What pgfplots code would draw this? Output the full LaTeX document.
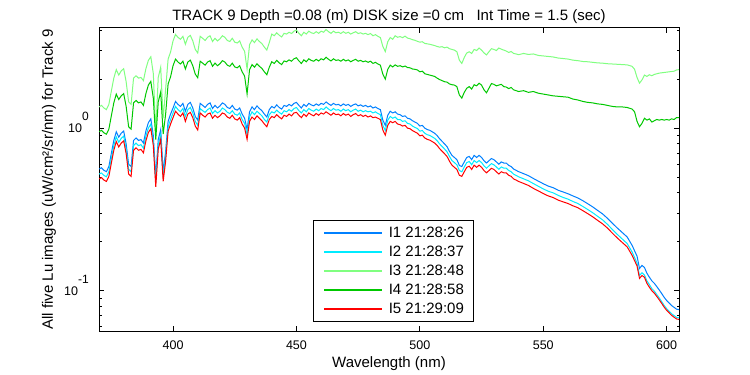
\documentclass[border=0pt]{standalone}
\usepackage{fontspec}
\setmainfont{Liberation Sans}
\usepackage{pgfplots}
\usepackage{pgfplotstable}
\pgfplotsset{compat=1.18}
\definecolor{cI1}{RGB}{0,128,255}
\definecolor{cI2}{RGB}{0,235,255}
\definecolor{cI3}{RGB}{128,255,128}
\definecolor{cI4}{RGB}{0,200,0}
\definecolor{cI5}{RGB}{255,0,0}
\pgfplotstableread{
x B C R G L
370 0.56 0.521 0.487 0.952 1.35
371 0.57 0.530 0.496 0.969 1.38
372 0.55 0.512 0.479 0.935 1.33
373 0.54 0.502 0.470 0.918 1.30
374 0.58 0.539 0.505 0.986 1.40
375 0.70 0.651 0.609 1.19 1.69
376 0.84 0.781 0.731 1.43 2.03
377 0.95 0.884 0.827 1.62 2.29
378 0.88 0.818 0.766 1.50 2.12
379 0.93 0.865 0.809 1.58 2.25
380 0.96 0.893 0.835 1.63 2.32
381 0.80 0.744 0.696 1.36 1.93
382 0.60 0.558 0.522 1.02 1.45
383 0.58 0.539 0.505 0.986 1.40
384 0.84 0.781 0.731 1.43 2.03
385 0.87 0.809 0.757 1.48 2.10
386 0.84 0.781 0.731 1.43 2.03
387 0.85 0.791 0.740 1.45 2.05
388 0.81 0.753 0.705 1.38 1.96
389 0.96 0.893 0.835 1.63 2.32
390 1.08 1.00 0.940 1.84 2.61
391 1.14 1.06 0.992 1.94 2.75
392 0.90 0.837 0.783 1.53 2.17
393 0.50 0.465 0.435 0.850 0.95
394 0.85 0.791 0.740 1.45 2.05
395 0.98 0.911 0.853 1.67 2.37
396 0.54 0.502 0.470 0.918 1.15
397 0.72 0.670 0.626 1.22 1.74
398 1.10 1.02 0.957 1.87 2.66
399 1.22 1.13 1.06 2.07 2.94
400 1.33 1.24 1.16 2.42 3.44
401 1.46 1.36 1.27 2.66 3.77
402 1.40 1.30 1.22 2.55 3.62
403 1.36 1.26 1.18 2.48 3.52
404 1.42 1.32 1.24 2.58 3.67
405 1.27 1.18 1.10 2.31 3.28
406 1.40 1.30 1.22 2.55 3.62
407 1.44 1.34 1.25 2.62 3.72
408 1.33 1.24 1.16 2.42 3.44
409 1.18 1.10 1.03 2.15 3.05
410 1.12 1.04 0.974 2.04 2.90
411 1.42 1.32 1.24 2.58 3.67
412 1.38 1.28 1.20 2.51 3.57
413 1.34 1.25 1.17 2.44 3.46
414 1.40 1.30 1.22 2.55 3.62
415 1.43 1.33 1.24 2.60 3.70
416 1.32 1.23 1.15 2.40 3.41
417 1.38 1.28 1.20 2.51 3.57
418 1.33 1.24 1.16 2.42 3.44
419 1.37 1.27 1.19 2.49 3.54
420 1.43 1.33 1.24 2.60 3.70
421 1.40 1.30 1.22 2.55 3.62
422 1.34 1.25 1.17 2.44 3.46
423 1.32 1.23 1.15 2.40 3.41
424 1.38 1.28 1.20 2.51 3.57
425 1.31 1.22 1.14 2.38 3.38
426 1.29 1.20 1.12 2.35 3.34
427 1.33 1.24 1.16 2.42 3.44
428 1.22 1.13 1.06 2.22 3.15
429 1.15 1.07 1.00 2.09 2.97
430 0.98 0.911 0.853 1.62 2.30
431 1.26 1.17 1.10 2.29 3.26
432 1.35 1.26 1.17 2.46 3.49
433 1.30 1.21 1.13 2.37 3.36
434 1.37 1.27 1.19 2.49 3.54
435 1.32 1.23 1.15 2.40 3.41
436 1.28 1.19 1.11 2.33 3.31
437 1.22 1.13 1.06 2.22 3.15
438 1.17 1.09 1.02 2.13 3.02
439 1.30 1.21 1.13 2.37 3.36
440 1.36 1.26 1.18 2.56 3.79
441 1.33 1.24 1.16 2.50 3.70
442 1.39 1.29 1.21 2.61 3.86
443 1.34 1.25 1.17 2.52 3.73
444 1.31 1.22 1.14 2.46 3.64
445 1.38 1.28 1.20 2.59 3.83
446 1.36 1.26 1.18 2.56 3.79
447 1.40 1.30 1.22 2.63 3.89
448 1.37 1.27 1.19 2.58 3.82
449 1.42 1.32 1.24 2.67 3.95
450 1.44 1.34 1.25 2.71 4.01
451 1.38 1.28 1.20 2.59 3.83
452 1.33 1.24 1.16 2.50 3.70
453 1.40 1.30 1.22 2.63 3.89
454 1.36 1.26 1.18 2.56 3.79
455 1.42 1.32 1.24 2.67 3.95
456 1.39 1.29 1.21 2.61 3.86
457 1.37 1.27 1.19 2.58 3.82
458 1.41 1.31 1.23 2.65 3.92
459 1.38 1.28 1.20 2.59 3.83
460 1.42 1.32 1.24 2.67 3.95
461 1.40 1.30 1.22 2.63 3.89
462 1.45 1.35 1.26 2.73 4.04
463 1.41 1.31 1.23 2.65 3.92
464 1.38 1.28 1.20 2.59 3.83
465 1.42 1.32 1.24 2.67 3.95
466 1.39 1.29 1.21 2.61 3.86
467 1.40 1.30 1.22 2.63 3.89
468 1.37 1.27 1.19 2.58 3.82
469 1.41 1.31 1.23 2.65 3.92
470 1.38 1.28 1.20 2.59 3.83
471 1.40 1.30 1.22 2.63 3.89
472 1.36 1.26 1.18 2.56 3.79
473 1.39 1.29 1.21 2.61 3.86
474 1.41 1.31 1.23 2.65 3.92
475 1.37 1.27 1.19 2.58 3.82
476 1.39 1.29 1.21 2.61 3.86
477 1.36 1.26 1.18 2.56 3.79
478 1.38 1.28 1.20 2.59 3.83
479 1.35 1.26 1.17 2.54 3.76
480 1.37 1.27 1.19 2.58 3.82
481 1.33 1.24 1.16 2.50 3.70
482 1.35 1.26 1.17 2.54 3.76
483 1.32 1.23 1.15 2.48 3.67
484 1.30 1.21 1.13 2.44 3.61
485 1.12 1.04 0.974 2.15 3.18
486 1.04 0.967 0.905 2.00 2.96
487 1.20 1.12 1.04 2.30 3.40
488 1.27 1.18 1.10 2.44 3.61
489 1.24 1.15 1.08 2.38 3.52
490 1.26 1.17 1.10 2.45 3.70
491 1.22 1.13 1.06 2.40 3.62
492 1.21 1.13 1.05 2.42 3.66
493 1.18 1.10 1.03 2.38 3.60
494 1.19 1.11 1.04 2.41 3.68
495 1.15 1.07 1.00 2.36 3.58
496 1.14 1.06 0.992 2.35 3.55
497 1.11 1.03 0.966 2.31 3.50
498 1.09 1.01 0.948 2.30 3.47
499 1.07 0.995 0.931 2.28 3.42
500 1.03 0.958 0.896 2.22 3.38
501 1.04 0.967 0.905 2.24 3.40
502 1.00 0.930 0.870 2.16 3.32
503 0.98 0.911 0.853 2.14 3.30
504 0.97 0.902 0.844 2.12 3.28
505 0.95 0.884 0.827 2.10 3.25
506 0.93 0.865 0.809 2.08 3.22
507 0.90 0.837 0.783 2.03 3.18
508 0.86 0.800 0.748 1.99 3.15
509 0.83 0.772 0.722 1.96 3.17
510 0.80 0.744 0.696 1.93 3.12
511 0.77 0.716 0.670 1.92 3.15
512 0.72 0.670 0.626 1.87 3.08
513 0.68 0.632 0.592 1.85 3.05
514 0.66 0.614 0.574 1.84 3.02
515 0.64 0.595 0.557 1.80 2.95
516 0.59 0.549 0.513 1.60 2.62
517 0.58 0.539 0.505 1.53 2.50
518 0.62 0.577 0.539 1.66 2.72
519 0.66 0.614 0.574 1.76 2.90
520 0.67 0.623 0.583 1.80 2.95
521 0.64 0.595 0.557 1.74 2.88
522 0.68 0.632 0.592 1.85 3.05
523 0.66 0.614 0.574 1.82 3.00
524 0.68 0.632 0.592 1.89 3.11
525 0.66 0.614 0.574 1.84 3.02
526 0.63 0.586 0.548 1.72 2.90
527 0.61 0.567 0.531 1.65 2.82
528 0.63 0.586 0.548 1.76 2.95
529 0.65 0.605 0.566 1.88 3.08
530 0.64 0.595 0.557 1.86 3.05
531 0.62 0.577 0.539 1.82 3.00
532 0.60 0.558 0.522 1.84 3.11
533 0.62 0.577 0.539 1.86 3.06
534 0.61 0.567 0.531 1.80 3.02
535 0.61 0.567 0.531 1.79 2.98
536 0.59 0.549 0.513 1.75 2.92
537 0.58 0.539 0.505 1.78 2.96
538 0.56 0.521 0.487 1.72 2.88
539 0.55 0.512 0.479 1.70 2.86
540 0.54 0.502 0.470 1.68 2.83
542 0.525 0.488 0.457 1.70 2.88
544 0.51 0.474 0.444 1.66 2.84
546 0.49 0.456 0.426 1.68 2.86
548 0.472 0.439 0.411 1.64 2.80
550 0.455 0.423 0.396 1.62 2.78
552 0.44 0.409 0.383 1.60 2.76
554 0.43 0.400 0.374 1.58 2.74
556 0.415 0.386 0.361 1.57 2.70
558 0.405 0.375 0.352 1.56 2.68
560 0.395 0.366 0.344 1.55 2.66
562 0.383 0.354 0.333 1.51 2.62
564 0.372 0.344 0.324 1.49 2.60
566 0.358 0.330 0.311 1.46 2.57
568 0.343 0.316 0.298 1.44 2.56
570 0.328 0.302 0.285 1.43 2.54
572 0.312 0.287 0.271 1.41 2.52
574 0.297 0.273 0.258 1.40 2.51
576 0.279 0.256 0.243 1.38 2.49
578 0.260 0.238 0.226 1.36 2.48
580 0.243 0.222 0.211 1.35 2.47
582 0.228 0.208 0.198 1.35 2.46
584 0.214 0.195 0.186 1.34 2.45
586 0.190 0.173 0.165 1.31 2.40
587 0.176 0.160 0.153 1.26 2.30
588 0.163 0.148 0.142 1.10 2.05
589 0.137 0.124 0.119 1.02 1.89
590 0.143 0.129 0.124 1.07 1.98
591 0.139 0.125 0.121 1.15 2.12
592 0.128 0.115 0.111 1.12 2.08
593 0.121 0.109 0.105 1.14 2.13
594 0.115 0.103 0.100 1.09 2.10
595 0.111 0.0994 0.0966 1.11 2.14
596 0.106 0.0947 0.0922 1.13 2.16
597 0.101 0.0902 0.0879 1.12 2.18
598 0.096 0.0856 0.0835 1.13 2.19
599 0.091 0.0811 0.0792 1.12 2.20
600 0.087 0.0775 0.0757 1.13 2.21
601 0.084 0.0748 0.0731 1.12 2.22
602 0.081 0.0721 0.0705 1.14 2.23
603 0.079 0.0703 0.0687 1.13 2.24
604 0.077 0.0685 0.0670 1.16 2.28
605 0.0765 0.0681 0.0666 1.16 2.29
}\data
\begin{document}
\begin{tikzpicture}
\path[use as bounding box] (0pt,0pt) rectangle (750pt,375pt);
\begin{axis}[
  at={(99pt,44pt)}, anchor=south west,
  scale only axis, width=580pt, height=303pt,
  ymode=log, xmin=370, xmax=605, ymin=0.0565, ymax=4.13,
  xtick={400,450,500,550,600},
  ytick={0.1,1},
  yticklabels={10\raisebox{12pt}{\fontsize{12}{12}\selectfont -1},10\raisebox{12pt}{\fontsize{12}{12}\selectfont 0}},
  minor ytick={0.06,0.07,0.08,0.09,0.2,0.3,0.4,0.5,0.6,0.7,0.8,0.9,2,3,4},
  major tick length=5pt, minor tick length=2.5pt,
  tick style={black, line width=0.9pt},
  axis line style={line width=1pt},
  /pgf/number format/assume math mode=true,
  /pgf/number format/1000 sep={},
  tick label style={font=\fontsize{12.5}{12.5}\selectfont, inner sep=0pt},
  xticklabel style={anchor=north, yshift=-10pt},
  yticklabel style={anchor=base east, xshift=-10pt, yshift=-4.5pt},
  title={TRACK 9 Depth =0.08 (m) DISK size =0 cm\ \ \ Int Time = 1.5 (sec)},
  every axis title/.style={at={(axis description cs:0.5,1.026)}, anchor=base, font=\fontsize{15}{15}\selectfont},
  xlabel={Wavelength (nm)},
  every axis x label/.style={at={(axis description cs:0.5,-0.122)}, anchor=base, font=\fontsize{15}{15}\selectfont},
  ylabel={All five Lu images (uW/cm²/sr/nm) for Track 9},
  every axis y label/.style={at={(axis description cs:-0.0862,0.5)}, rotate=90, anchor=center, font=\fontsize{15}{15}\selectfont},
  legend cell align=left,
  legend style={at={(axis description cs:0.369,0.366)}, anchor=north west, draw=black, line width=1pt, fill=white,
    font=\fontsize{15}{15}\selectfont, inner xsep=10pt, inner ysep=5.5pt, row sep=5pt, column sep=6pt,
    nodes={inner sep=0pt, text height=11pt, text depth=3pt}},
  legend image code/.code={\draw[#1, line width=1.3pt] (0pt,0pt) -- (58pt,0pt);},
]
\addplot[color=cI1, line width=1pt, mark=none] table[x=x,y=B] {\data};
\addlegendentry{I1 21:28:26}
\addplot[color=cI2, line width=1pt, mark=none] table[x=x,y=C] {\data};
\addlegendentry{I2 21:28:37}
\addplot[color=cI3, line width=1pt, mark=none] table[x=x,y=L] {\data};
\addlegendentry{I3 21:28:48}
\addplot[color=cI4, line width=1pt, mark=none] table[x=x,y=G] {\data};
\addlegendentry{I4 21:28:58}
\addplot[color=cI5, line width=1pt, mark=none] table[x=x,y=R] {\data};
\addlegendentry{I5 21:29:09}
\end{axis}
\end{tikzpicture}
\end{document}
